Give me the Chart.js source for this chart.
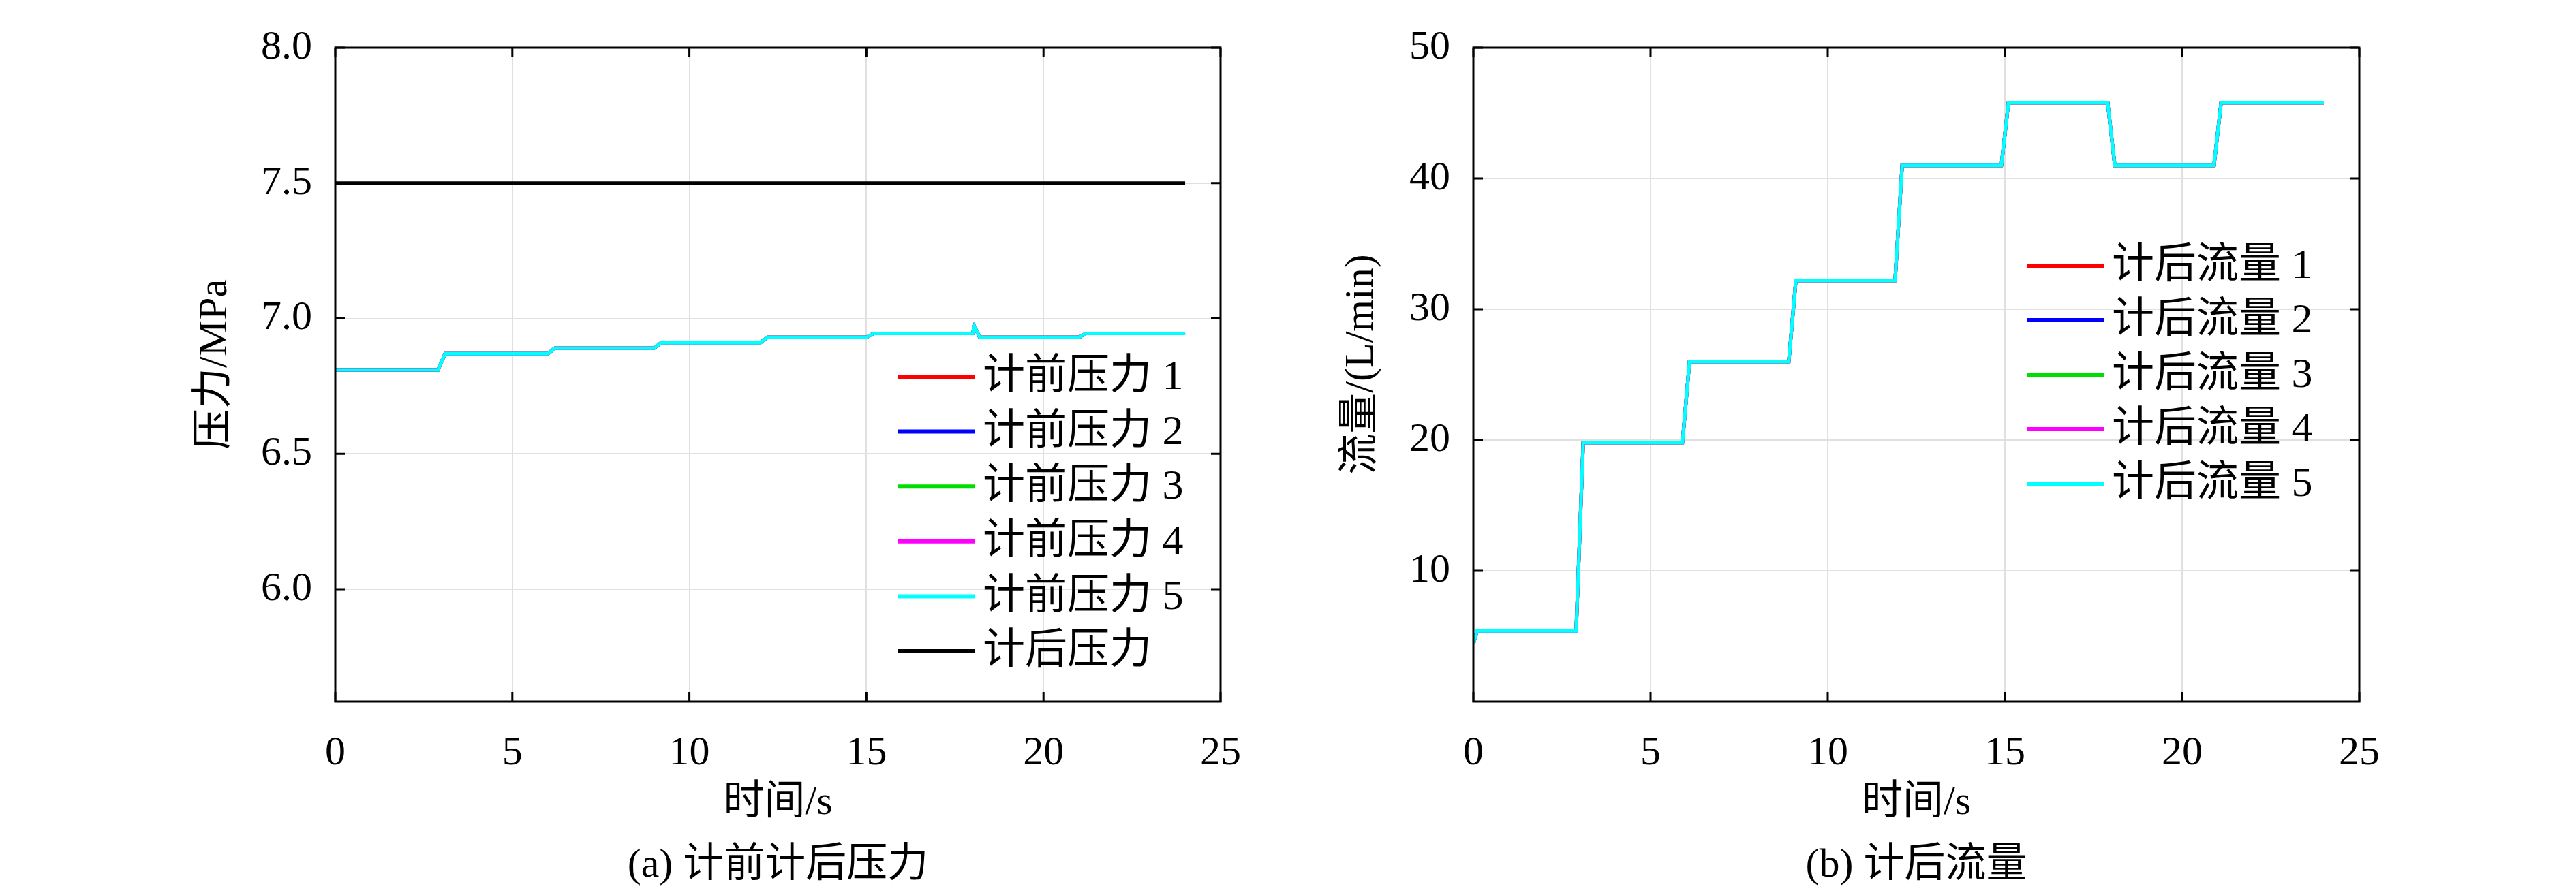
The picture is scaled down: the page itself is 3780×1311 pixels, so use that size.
<!DOCTYPE html>
<html><head><meta charset="utf-8">
<script src="https://cdn.jsdelivr.net/npm/chart.js@4"></script>
<style>
body{margin:0;background:#fff;width:3780px;height:1311px;position:relative;overflow:hidden}
.box{position:absolute;top:0;width:1890px;height:1311px}
</style></head><body>
<div class="box" style="left:0"><canvas id="pChart"></canvas></div>
<div class="box" style="left:1890px"><canvas id="fChart"></canvas></div>
<script>
// step breakpoints (s) and values
const pTime = [0, 2.9, 3.1, 6.0, 6.2, 9.0, 9.2, 12.0, 12.2, 15.0, 15.2, 18.0, 18.05, 18.2, 21.0, 21.2, 24];
const pBefore = [6.81, 6.81, 6.87, 6.87, 6.89, 6.89, 6.91, 6.91, 6.93, 6.93, 6.945, 6.945, 6.97, 6.93, 6.93, 6.945, 6.945];
const pAfterTime = [0, 24];
const pAfter = [7.5, 7.5];
const pTicks = [6.0, 6.5, 7.0, 7.5, 8.0];
const pLabels = ['计前压力 1', '计前压力 2', '计前压力 3', '计前压力 4', '计前压力 5', '计后压力'];

const fTime = [0, 0.1, 2.9, 3.1, 5.9, 6.1, 8.9, 9.1, 11.9, 12.1, 14.9, 15.1, 17.9, 18.1, 20.9, 21.1, 24];
const flow = [4.4, 5.4, 5.4, 19.8, 19.8, 26.0, 26.0, 32.2, 32.2, 41.0, 41.0, 45.8, 45.8, 41.0, 41.0, 45.8, 45.8];
const fTicks = [10, 20, 30, 40, 50];
const fLabels = ['计后流量 1', '计后流量 2', '计后流量 3', '计后流量 4', '计后流量 5'];

const xTicks = [0, 5, 10, 15, 20, 25];
const colors = ['#ff0000', '#0000ff', '#00dd00', '#ff00ff', '#00ffff', '#000000'];
const FONT = '"Liberation Serif", "Noto Sans CJK SC", serif';

function pts(xs, ys) { return xs.map((x, i) => ({x: x, y: ys[i]})); }

// titles, inner tick marks and legend drawn inside the plot
const decor = {
  id: 'decor',
  afterDraw(chart, args, o) {
    const c = chart.ctx, a = chart.chartArea, xs = chart.scales.x, ys = chart.scales.y;
    c.save();
    c.strokeStyle = '#000'; c.lineWidth = 3;
    xs.ticks.forEach(t => { const px = xs.getPixelForValue(t.value);
      c.beginPath(); c.moveTo(px, a.bottom); c.lineTo(px, a.bottom - 14);
      c.moveTo(px, a.top); c.lineTo(px, a.top + 14); c.stroke(); });
    ys.ticks.forEach(t => { const py = ys.getPixelForValue(t.value);
      c.beginPath(); c.moveTo(a.left, py); c.lineTo(a.left + 14, py);
      c.moveTo(a.right, py); c.lineTo(a.right - 14, py); c.stroke(); });
    c.strokeRect(a.left, a.top, a.right - a.left, a.bottom - a.top);
    c.fillStyle = '#000'; c.font = '60px ' + FONT; c.textAlign = 'center'; c.textBaseline = 'middle';
    const cx = (a.left + a.right) / 2;
    c.fillText('时间/s', cx, 1179);
    c.fillText(o.caption, cx, 1271);
    c.save(); c.translate(o.yTitleX, 535); c.rotate(-Math.PI / 2); c.fillText(o.yTitle, 0, 0); c.restore();
    c.textAlign = 'left'; c.font = '62px ' + FONT;
    o.labels.forEach((l, i) => {
      const y = o.legY + i * o.legStep;
      c.strokeStyle = colors[o.colorIdx[i]]; c.lineWidth = 6;
      c.beginPath(); c.moveTo(o.legX, y); c.lineTo(o.legX + 112, y); c.stroke();
      c.fillText(l, o.legX + 124, y + 2);
    });
    c.restore();
  }
};

function makeChart(id, datasets, yMin, yMax, yTicks, rightPad, yW, dec) {
  new Chart(document.getElementById(id), {
    type: 'line',
    data: {datasets: datasets},
    options: {
      responsive: false, animation: false, devicePixelRatio: 1,
      layout: {padding: {left: 0, top: 30, right: rightPad, bottom: 0}},
      plugins: {legend: {display: false}, tooltip: {enabled: false}, decor: dec},
      elements: {point: {radius: 0}, line: {borderWidth: 5, tension: 0}},
      scales: {
        x: {type: 'linear', min: 0, max: 25,
          afterBuildTicks: s => { s.ticks = xTicks.map(v => ({value: v})); },
          afterFit: s => { s.height = 281; },
          grid: {color: '#e0e0e0', lineWidth: 2, drawTicks: false},
          border: {display: false},
          ticks: {padding: 40, color: '#000', font: {family: FONT, size: 60}}},
        y: {min: yMin, max: yMax,
          afterBuildTicks: s => { s.ticks = yTicks.map(v => ({value: v})); },
          afterFit: s => { s.width = yW; },
          grid: {color: '#e0e0e0', lineWidth: 2, drawTicks: false},
          border: {display: false},
          ticks: {padding: 34, color: '#000', font: {family: FONT, size: 60},
            callback: v => dec.decimals ? v.toFixed(1) : String(v)}}
      }
    },
    plugins: [decor]
  });
}

const c1 = document.getElementById('pChart'); c1.width = 1890; c1.height = 1311;
const c2 = document.getElementById('fChart'); c2.width = 1890; c2.height = 1311;

// the first dataset is drawn on top, so the list is reversed to keep series 5 (cyan) visible
const pSets = pLabels.slice(0, 5).map((l, i) => ({label: l, data: pts(pTime, pBefore), borderColor: colors[i]}));
pSets.push({label: pLabels[5], data: pts(pAfterTime, pAfter), borderColor: colors[5]});
pSets.reverse();
makeChart('pChart', pSets, 5.585, 8.0, pTicks, 99, 492,
  {caption: '(a) 计前计后压力', yTitle: '压力/MPa', yTitleX: 316, labels: pLabels,
   colorIdx: [0, 1, 2, 3, 4, 5], legX: 1318, legY: 553, legStep: 80.6, decimals: true});

const fSets = fLabels.map((l, i) => ({label: l, data: pts(fTime, flow), borderColor: colors[i]}));
fSets.reverse();
makeChart('fChart', fSets, 0, 50, fTicks, 1890 - 1572, 272,
  {caption: '(b) 计后流量', yTitle: '流量/(L/min)', yTitleX: 108, labels: fLabels,
   colorIdx: [0, 1, 2, 3, 4], legX: 1085, legY: 390, legStep: 80, decimals: false});
</script>
</body></html>
